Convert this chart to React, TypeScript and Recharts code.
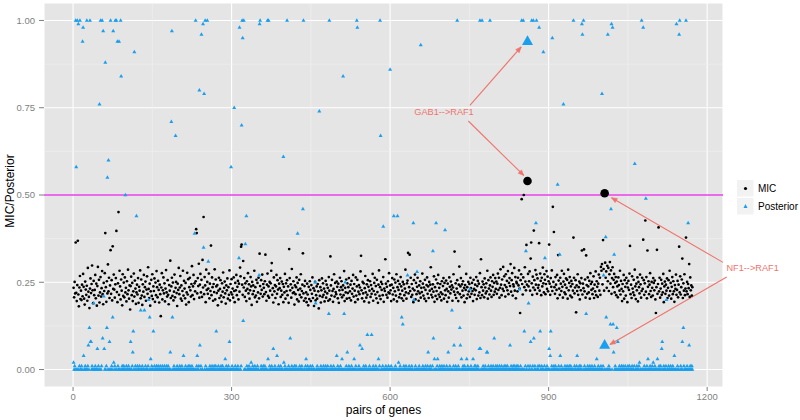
import React from 'react'
import { ScatterChart, Scatter, XAxis, YAxis, CartesianGrid, ReferenceLine, ReferenceDot } from 'recharts'

// MIC per gene pair, in thousandths (pair index = position + 1)
const micValues = [
  234, 207, 251, 218, 364, 220, 196, 242, 369, 215,
  181, 235, 268, 202, 226, 199, 243, 210, 274, 237,
  203, 186, 252, 229, 214, 240, 197, 291, 223, 208,
  176, 232, 261, 219, 245, 298, 227, 190, 254, 213,
  228, 271, 204, 246, 183, 239, 294, 212, 257, 192,
  221, 265, 209, 233, 282, 216, 187, 248, 225, 276,
  391, 236, 194, 253, 218, 301, 224, 263, 205, 241,
  342, 217, 256, 198, 353, 231, 272, 229, 206, 244,
  262, 397, 222, 193, 247, 451, 214, 283, 238, 201,
  258, 226, 184, 273, 211, 249, 207, 264, 221, 234,
  195, 253, 216, 286, 227, 203, 241, 172, 239, 266,
  213, 248, 196, 224, 275, 209, 255, 232, 188, 221,
  243, 215, 262, 191, 237, 226, 284, 204, 258, 212,
  185, 244, 223, 271, 208, 236, 252, 197, 229, 267,
  217, 293, 231, 205, 246, 183, 224, 257, 211, 273,
  202, 238, 225, 261, 194, 249, 213, 282, 236, 207,
  254, 228, 192, 243, 216, 153, 235, 276, 201, 227,
  264, 218, 247, 195, 232, 285, 221, 209, 256, 214,
  187, 242, 226, 312, 205, 238, 263, 211, 249, 198,
  223, 272, 207, 234, 251, 219, 182, 246, 228, 291,
  216, 235, 268, 203, 241, 197, 225, 283, 212, 254,
  232, 204, 248, 186, 221, 277, 215, 259, 193, 236,
  263, 227, 209, 245, 296, 213, 238, 271, 202, 247,
  224, 253, 402, 391, 218, 262, 239, 303, 206, 243,
  274, 221, 257, 208, 314, 235, 437, 216, 265, 241,
  193, 286, 228, 251, 217, 232, 275, 204, 246, 225,
  355, 213, 264, 236, 197, 245, 222, 287, 201, 258,
  238, 219, 242, 184, 226, 263, 205, 231, 256, 212,
  194, 247, 223, 278, 207, 234, 252, 218, 189, 241,
  227, 261, 203, 236, 214, 284, 198, 245, 221, 259,
  215, 232, 206, 264, 225, 193, 248, 227, 271, 213,
  237, 254, 201, 246, 223, 292, 267, 352, 358, 243,
  214, 311, 235, 262, 208, 247, 226, 196, 253, 231,
  276, 218, 244, 203, 227, 265, 238, 185, 251, 216,
  241, 225, 283, 207, 236, 212, 257, 194, 248, 221,
  263, 204, 332, 239, 217, 256, 228, 272, 209, 245,
  234, 216, 253, 329, 222, 197, 243, 275, 211, 238,
  206, 251, 226, 247, 283, 305, 214, 233, 192, 264,
  224, 242, 205, 238, 271, 217, 256, 229, 187, 246,
  233, 262, 208, 226, 252, 214, 245, 193, 237, 221,
  274, 203, 247, 225, 256, 213, 238, 191, 345, 262,
  227, 244, 206, 288, 234, 219, 253, 221, 186, 241,
  216, 236, 264, 201, 248, 228, 195, 257, 214, 232,
  273, 207, 225, 243, 333, 218, 197, 239, 254, 204,
  221, 193, 246, 215, 184, 237, 202, 253, 228, 196,
  242, 217, 264, 205, 233, 182, 226, 251, 198, 213,
  238, 203, 245, 224, 175, 256, 211, 236, 192, 227,
  261, 208, 247, 214, 232, 195, 223, 254, 206, 243,
  218, 234, 197, 265, 226, 201, 324, 241, 212, 257,
  225, 194, 231, 273, 209, 248, 222, 216, 252, 237,
  204, 246, 191, 227, 263, 215, 236, 253, 207, 228,
  241, 213, 282, 196, 234, 221, 258, 203, 247, 219,
  236, 262, 205, 224, 243, 198, 254, 217, 232, 271,
  209, 245, 226, 193, 264, 212, 238, 257, 201, 223,
  242, 216, 235, 281, 326, 227, 204, 251, 218, 247,
  195, 233, 268, 221, 206, 244, 214, 256, 237, 192,
  226, 253, 208, 242, 217, 231, 274, 197, 225, 248,
  263, 215, 239, 204, 257, 222, 191, 243, 284, 211,
  236, 202, 251, 228, 245, 213, 265, 194, 232, 225,
  316, 246, 214, 237, 206, 253, 221, 276, 218, 241,
  227, 196, 243, 262, 215, 234, 201, 258, 224, 249,
  212, 273, 195, 236, 254, 228, 207, 245, 216, 265,
  238, 204, 226, 251, 197, 244, 213, 232, 286, 221,
  203, 247, 255, 334, 218, 236, 329, 225, 263, 208,
  245, 214, 232, 193, 256, 227, 272, 201, 248, 216,
  237, 263, 224, 197, 241, 218, 253, 206, 234, 222,
  275, 246, 212, 235, 203, 257, 228, 196, 242, 264,
  217, 238, 205, 251, 226, 243, 293, 214, 231, 207,
  244, 223, 267, 194, 236, 211, 258, 225, 202, 247,
  271, 215, 234, 208, 245, 221, 198, 253, 216, 239,
  262, 203, 248, 227, 213, 255, 231, 194, 246, 224,
  206, 264, 237, 218, 252, 229, 241, 197, 235, 273,
  223, 338, 214, 247, 205, 232, 256, 221, 196, 243,
  295, 216, 238, 262, 207, 244, 226, 253, 212, 234,
  193, 242, 228, 274, 204, 236, 215, 251, 224, 245,
  208, 263, 233, 217, 248, 225, 196, 257, 231, 214,
  243, 227, 265, 202, 239, 254, 212, 246, 221, 276,
  205, 316, 236, 213, 252, 226, 244, 207, 261, 235,
  218, 247, 224, 283, 203, 256, 232, 215, 241, 264,
  226, 208, 253, 237, 271, 214, 248, 223, 262, 231,
  252, 217, 246, 275, 228, 263, 206, 234, 287, 243,
  213, 258, 231, 294, 225, 267, 242, 209, 273, 236,
  254, 227, 282, 216, 248, 262, 239, 302, 223, 256,
  276, 212, 244, 238, 291, 226, 265, 204, 251, 247,
  224, 263, 241, 284, 232, 162, 256, 273, 488, 245,
  215, 264, 500, 236, 293, 252, 227, 357, 243, 540,
  274, 238, 253, 281, 226, 318, 364, 247, 214, 266,
  235, 398, 256, 228, 285, 243, 272, 217, 261, 234,
  242, 362, 226, 275, 254, 213, 263, 238, 292, 247,
  221, 273, 257, 216, 245, 282, 231, 266, 224, 253,
  358, 246, 214, 262, 237, 284, 225, 466, 251, 394,
  236, 217, 265, 243, 228, 271, 204, 328, 255, 232,
  214, 263, 246, 225, 283, 237, 206, 252, 274, 221,
  243, 216, 261, 234, 257, 203, 286, 227, 248, 265,
  212, 238, 254, 207, 245, 226, 378, 263, 218, 235,
  256, 164, 241, 225, 273, 214, 236, 252, 201, 247,
  227, 262, 341, 215, 246, 233, 344, 224, 258, 206,
  327, 242, 217, 264, 238, 221, 254, 203, 276, 245,
  228, 251, 216, 232, 267, 205, 243, 224, 281, 213,
  253, 237, 208, 246, 272, 226, 263, 214, 294, 283,
  302, 244, 371, 288, 226, 505, 306, 263, 281, 234,
  297, 253, 291, 225, 273, 308, 246, 284, 217, 262,
  293, 236, 257, 274, 221, 248, 265, 213, 252, 238,
  207, 264, 242, 226, 283, 215, 254, 231, 196, 245,
  224, 271, 203, 256, 237, 212, 263, 247, 193, 235,
  254, 228, 275, 354, 216, 243, 205, 267, 232, 221,
  257, 213, 286, 238, 202, 246, 227, 264, 195, 251,
  236, 218, 272, 244, 206, 225, 263, 231, 372, 256,
  214, 247, 427, 223, 265, 204, 341, 237, 253, 216,
  243, 276, 225, 208, 251, 234, 212, 262, 248, 227,
  255, 201, 162, 236, 343, 217, 245, 407, 224, 263,
  206, 232, 257, 214, 246, 221, 274, 193, 238, 252,
  217, 243, 226, 261, 205, 234, 256, 212, 283, 225,
  248, 203, 237, 265, 216, 253, 224, 194, 242, 231,
  272, 214, 228, 254, 207, 243, 352, 221, 267, 215,
  236, 258, 318, 205, 247, 226, 273, 213, 232, 378,
  224, 251, 216, 245, 233, 302, 208, 264, 227, 241,
  212, 236,
]

// Posterior per gene pair, in hundredths
const posteriorValues = [
  2, 0, 1, 0, 100, 58, 0, 100, 0, 99,
  0, 1, 100, 0, 0, 1, 0, 94, 98, 4,
  0, 0, 1, 0, 0, 100, 0, 1, 7, 0,
  12, 100, 8, 8, 0, 1, 0, 0, 19, 0,
  0, 1, 0, 0, 0, 6, 0, 1, 0, 76,
  0, 100, 0, 1, 100, 9, 97, 21, 6, 0,
  88, 0, 1, 12, 55, 0, 60, 0, 8, 0,
  100, 0, 1, 0, 15, 97, 2, 0, 1, 100,
  0, 100, 0, 94, 1, 0, 94, 0, 0, 100,
  84, 0, 1, 0, 0, 1, 0, 0, 50, 0,
  1, 0, 0, 0, 1, 0, 0, 0, 8, 0,
  0, 1, 5, 11, 0, 91, 0, 1, 0, 44,
  0, 1, 0, 0, 0, 1, 0, 17, 0, 0,
  1, 0, 0, 0, 17, 0, 1, 0, 0, 0,
  0, 1, 20, 0, 15, 0, 3, 0, 1, 0,
  0, 11, 0, 1, 0, 0, 0, 1, 0, 0,
  1, 0, 0, 0, 1, 0, 0, 0, 1, 0,
  0, 0, 1, 0, 0, 0, 1, 0, 0, 1,
  0, 0, 0, 5, 0, 71, 97, 15, 0, 0,
  1, 0, 0, 67, 0, 0, 1, 0, 0, 0,
  0, 1, 0, 0, 0, 1, 0, 0, 4, 0,
  0, 0, 1, 0, 0, 0, 0, 1, 0, 0,
  1, 0, 0, 0, 1, 0, 0, 0, 0, 39,
  0, 100, 0, 1, 4, 0, 0, 1, 80, 7,
  0, 1, 96, 0, 0, 99, 35, 79, 0, 100,
  1, 0, 0, 100, 0, 31, 0, 0, 1, 0,
  0, 0, 1, 0, 0, 0, 1, 0, 0, 1,
  11, 0, 0, 0, 1, 0, 0, 0, 0, 1,
  0, 0, 1, 0, 0, 0, 0, 3, 0, 1,
  0, 0, 0, 1, 0, 8, 0, 0, 58, 0,
  1, 0, 0, 0, 75, 0, 1, 0, 0, 0,
  0, 1, 0, 32, 98, 0, 0, 1, 70, 100,
  95, 14, 100, 0, 0, 36, 0, 44, 1, 0,
  0, 0, 1, 0, 0, 0, 2, 0, 0, 1,
  0, 0, 0, 1, 0, 0, 0, 0, 1, 0,
  0, 27, 99, 100, 0, 1, 0, 0, 0, 1,
  0, 0, 1, 0, 0, 0, 0, 100, 3, 100,
  0, 1, 0, 0, 0, 1, 0, 0, 6, 0,
  0, 1, 0, 0, 0, 4, 0, 0, 1, 0,
  0, 0, 1, 0, 0, 0, 0, 61, 2, 0,
  1, 0, 0, 0, 100, 0, 0, 1, 0, 0,
  9, 0, 0, 1, 0, 0, 0, 0, 1, 0,
  0, 1, 0, 0, 39, 0, 0, 0, 1, 0,
  0, 0, 1, 0, 46, 100, 0, 0, 0, 1,
  3, 0, 0, 1, 0, 0, 0, 0, 1, 0,
  0, 0, 1, 0, 0, 0, 0, 25, 19, 0,
  0, 1, 0, 0, 0, 74, 0, 0, 1, 0,
  0, 0, 0, 1, 0, 0, 0, 1, 0, 0,
  0, 1, 0, 16, 100, 0, 0, 1, 0, 0,
  0, 0, 1, 0, 0, 0, 0, 0, 4, 0,
  1, 0, 0, 0, 0, 1, 0, 0, 3, 0,
  84, 0, 16, 0, 25, 0, 1, 0, 5, 0,
  0, 1, 0, 0, 0, 0, 1, 0, 0, 0,
  0, 3, 0, 0, 1, 0, 100, 98, 0, 0,
  1, 0, 7, 0, 0, 0, 6, 0, 0, 1,
  0, 0, 0, 1, 0, 0, 10, 0, 0, 0,
  1, 0, 0, 0, 10, 0, 0, 1, 0, 0,
  0, 0, 1, 0, 0, 0, 0, 3, 0, 1,
  100, 67, 0, 0, 0, 1, 41, 0, 0, 0,
  0, 1, 0, 0, 0, 0, 1, 0, 0, 86,
  0, 1, 0, 0, 0, 0, 44, 0, 0, 1,
  0, 0, 0, 44, 0, 2, 0, 0, 1, 0,
  0, 15, 0, 13, 0, 1, 0, 0, 0, 1,
  0, 0, 27, 0, 0, 1, 0, 0, 0, 0,
  1, 0, 0, 42, 20, 0, 0, 1, 0, 0,
  28, 0, 0, 0, 1, 0, 0, 93, 0, 0,
  0, 1, 0, 0, 0, 0, 1, 0, 0, 0,
  1, 5, 0, 0, 0, 1, 0, 0, 0, 1,
  34, 9, 0, 3, 0, 0, 42, 0, 1, 3,
  0, 0, 0, 1, 0, 0, 0, 1, 0, 0,
  0, 1, 0, 40, 0, 0, 1, 0, 0, 5,
  0, 0, 1, 0, 0, 0, 17, 0, 0, 1,
  7, 0, 0, 1, 0, 0, 100, 0, 1, 0,
  0, 12, 7, 0, 3, 0, 0, 1, 0, 0,
  1, 0, 0, 0, 3, 0, 1, 0, 0, 0,
  23, 0, 1, 0, 0, 0, 3, 0, 0, 1,
  0, 1, 0, 0, 0, 1, 0, 0, 6, 100,
  6, 0, 0, 100, 0, 1, 0, 0, 0, 1,
  0, 0, 5, 5, 0, 1, 0, 0, 100, 0,
  1, 0, 0, 0, 1, 0, 9, 0, 0, 1,
  0, 0, 1, 0, 0, 0, 1, 0, 0, 0,
  1, 0, 0, 0, 0, 1, 0, 0, 1, 0,
  0, 1, 0, 0, 0, 0, 7, 0, 1, 0,
  0, 0, 1, 0, 0, 1, 0, 0, 0, 1,
  0, 1, 0, 0, 23, 0, 1, 0, 100, 0,
  0, 100, 0, 11, 0, 1, 34, 0, 0, 94,
  1, 19, 0, 0, 1, 8, 0, 100, 0, 1,
  100, 9, 0, 1, 0, 42, 100, 0, 0, 1,
  0, 98, 1, 11, 0, 0, 1, 0, 0, 91,
  0, 1, 32, 0, 0, 0, 1, 0, 0, 0,
  6, 0, 4, 11, 0, 1, 95, 0, 0, 1,
  0, 0, 1, 0, 0, 0, 53, 0, 1, 0,
  33, 4, 0, 1, 0, 0, 0, 76, 0, 0,
  1, 0, 0, 0, 1, 0, 0, 0, 1, 0,
  0, 1, 0, 0, 0, 0, 100, 0, 1, 0,
  0, 0, 1, 4, 0, 0, 0, 1, 0, 0,
  1, 0, 99, 96, 0, 100, 0, 1, 0, 0,
  16, 0, 0, 1, 0, 0, 0, 1, 0, 0,
  0, 1, 0, 0, 0, 0, 1, 0, 0, 0,
  3, 0, 0, 1, 0, 0, 0, 0, 1, 0,
  79, 0, 1, 27, 0, 7, 0, 38, 15, 0,
  0, 96, 0, 1, 0, 0, 13, 46, 99, 0,
  98, 13, 5, 33, 0, 1, 0, 0, 12, 0,
  8, 0, 0, 1, 0, 0, 0, 1, 0, 0,
  1, 0, 0, 0, 1, 0, 0, 0, 0, 1,
  0, 0, 1, 0, 0, 0, 0, 1, 0, 0,
  0, 1, 59, 0, 0, 0, 1, 0, 0, 0,
  1, 2, 0, 0, 0, 100, 0, 0, 98, 0,
  1, 0, 0, 49, 0, 1, 0, 3, 0, 0,
  0, 1, 0, 0, 0, 1, 0, 2, 0, 0,
  1, 0, 0, 0, 0, 3, 0, 0, 1, 0,
  0, 1, 0, 6, 8, 0, 0, 1, 0, 0,
  0, 1, 20, 0, 0, 0, 1, 0, 0, 0,
  1, 0, 0, 0, 1, 0, 0, 4, 0, 0,
  0, 99, 0, 1, 0, 0, 96, 100, 0, 1,
  0, 0, 8, 0, 12, 1, 0, 0, 0, 100,
  0, 1, 0, 42, 0, 7, 0, 1, 0, 0,
  1, 0,
]

// highlighted pairs and their labels
const highlightPairs = [860, 1006]
const highlightLabels = ['GAB1-->RAF1', 'NF1-->RAF1']
const threshold = 0.5

const xTicks = [0, 300, 600, 900, 1200]
const yTicks = [0, 0.25, 0.5, 0.75, 1]
const xMinor = [150, 450, 750, 1050]
const yMinor = [0.125, 0.375, 0.625, 0.875]

// label centres and arrows (data units), one entry per highlighted pair
const labelSpots = [
  { x: 702, y: 0.738 },
  { x: 1286, y: 0.291 },
]
const arrowSegments = [
  [[{ x: 751, y: 0.757 }, { x: 848, y: 0.924 }], [{ x: 748, y: 0.712 }, { x: 853, y: 0.556 }]],
  [[{ x: 1230, y: 0.307 }, { x: 1019, y: 0.492 }], [{ x: 1237, y: 0.265 }, { x: 1016, y: 0.072 }]],
]

const micData = micValues.map((v, i) => ({ x: i + 1, y: v / 1000 }))
const postData = posteriorValues.map((v, i) => ({ x: i + 1, y: v / 100 }))
const micHighlight = highlightPairs.map((p) => micData[p - 1])
const postHighlight = highlightPairs.map((p) => postData[p - 1])

const FONT = '"Liberation Sans", Arial, Helvetica, sans-serif'
const BLUE = '#1a9fee'
const ANNOT = '#ef746c'
const TICK_GREY = '#7f7f7f'

const dot = (r: number) => (p: any) => <circle cx={p.cx} cy={p.cy} r={r} fill="#000" />

const tri = (s: number) => (p: any) => (
  <polygon
    points={`${p.cx},${p.cy - s * 1.1} ${p.cx - s},${p.cy + s * 0.65} ${p.cx + s},${p.cy + s * 0.65}`}
    fill={BLUE}
  />
)

const arrowShape = (p: any) => {
  const { x1, y1, x2, y2 } = p
  const a = Math.atan2(y2 - y1, x2 - x1)
  const len = 6
  const w = 0.4
  const ax = x2 - len * Math.cos(a - w)
  const ay = y2 - len * Math.sin(a - w)
  const bx = x2 - len * Math.cos(a + w)
  const by = y2 - len * Math.sin(a + w)
  return (
    <g>
      <line x1={x1} y1={y1} x2={x2} y2={y2} stroke={ANNOT} strokeWidth={1.1} />
      <polygon points={`${ax},${ay} ${x2},${y2} ${bx},${by}`} fill={ANNOT} stroke={ANNOT} strokeWidth={0.6} />
    </g>
  )
}

const labelShape = (text: string) => (p: any) => (
  <text x={p.cx} y={p.cy} textAnchor="middle" dominantBaseline="central" fill={ANNOT} fontSize={9.2} fontFamily={FONT}>
    {text}
  </text>
)

function LegendBox() {
  return (
    <svg width={63} height={36} style={{ position: 'absolute', left: 737, top: 180 }}>
      <rect x={0} y={0} width={16.5} height={16.5} fill="#f2f2f2" />
      <circle cx={8.5} cy={8.5} r={1.6} fill="#000" />
      <text x={21} y={8.5} dominantBaseline="central" fontSize={10} fontFamily={FONT} fill="#000">
        MIC
      </text>
      <rect x={0} y={18} width={16.5} height={16.5} fill="#f2f2f2" />
      <polygon points="8.5,24 6.5,28 10.5,28" fill={BLUE} />
      <text x={21} y={26.5} dominantBaseline="central" fontSize={10} fontFamily={FONT} fill="#000">
        Posterior
      </text>
    </svg>
  )
}

export default function App() {
  return (
    <div style={{ position: 'absolute', left: 0, top: 0, width: 800, height: 420, background: '#fff', fontFamily: FONT }}>
      <ScatterChart width={800} height={420} margin={{ top: 3, right: 77, bottom: 0, left: 0 }}>
        <CartesianGrid fill="#e5e5e5" fillOpacity={1} stroke="#ffffff" strokeWidth={1.1} />
        <XAxis
          type="number"
          dataKey="x"
          domain={[-55, 1230]}
          ticks={xTicks}
          allowDataOverflow
          height={33}
          axisLine={false}
          tickLine={{ stroke: TICK_GREY }}
          tickSize={4}
          tickMargin={2}
          tick={{ fill: TICK_GREY, fontSize: 9.5, fontFamily: FONT }}
          label={(props: any) => {
            const vb = props.viewBox
            return (
              <text x={vb.x + vb.width / 2} y={vb.y + 27} textAnchor="middle" fontSize={12} fontFamily={FONT} fill="#000">
                pairs of genes
              </text>
            )
          }}
        />
        <YAxis
          type="number"
          dataKey="y"
          domain={[-0.05, 1.05]}
          ticks={yTicks}
          allowDataOverflow
          width={44}
          axisLine={false}
          tickLine={{ stroke: TICK_GREY }}
          tickSize={5}
          tickMargin={4}
          tickFormatter={(v: number) => v.toFixed(2)}
          tick={{ fill: TICK_GREY, fontSize: 9.5, fontFamily: FONT }}
          label={(props: any) => {
            const vb = props.viewBox
            const cx = 10
            const cy = vb.y + vb.height / 2 - 4
            return (
              <text
                x={cx}
                y={cy}
                transform={`rotate(-90 ${cx} ${cy})`}
                textAnchor="middle"
                dominantBaseline="central"
                fontSize={12}
                fontFamily={FONT}
                fill="#000"
              >
                MIC/Posterior
              </text>
            )
          }}
        />
        {yMinor.map((v) => (
          <ReferenceLine key={'ym' + v} y={v} stroke="#f2f2f2" strokeWidth={0.6} />
        ))}
        {xMinor.map((v) => (
          <ReferenceLine key={'xm' + v} x={v} stroke="#f2f2f2" strokeWidth={0.6} />
        ))}
        <ReferenceLine y={threshold} stroke="#e83be8" strokeWidth={1.4} />
        <Scatter name="MIC" data={micData} shape={dot(1.35)} isAnimationActive={false} />
        <Scatter name="Posterior" data={postData} shape={tri(2)} isAnimationActive={false} />
        <Scatter data={micHighlight} shape={dot(4.3)} isAnimationActive={false} />
        <Scatter data={postHighlight} shape={tri(5.5)} isAnimationActive={false} />
        {arrowSegments.flat().map((seg, i) => (
          <ReferenceLine key={'ar' + i} segment={seg} ifOverflow="visible" shape={arrowShape} />
        ))}
        {labelSpots.map((s, i) => (
          <ReferenceDot key={'lb' + i} x={s.x} y={s.y} r={1} ifOverflow="visible" shape={labelShape(highlightLabels[i])} />
        ))}
      </ScatterChart>
      <LegendBox />
    </div>
  )
}
